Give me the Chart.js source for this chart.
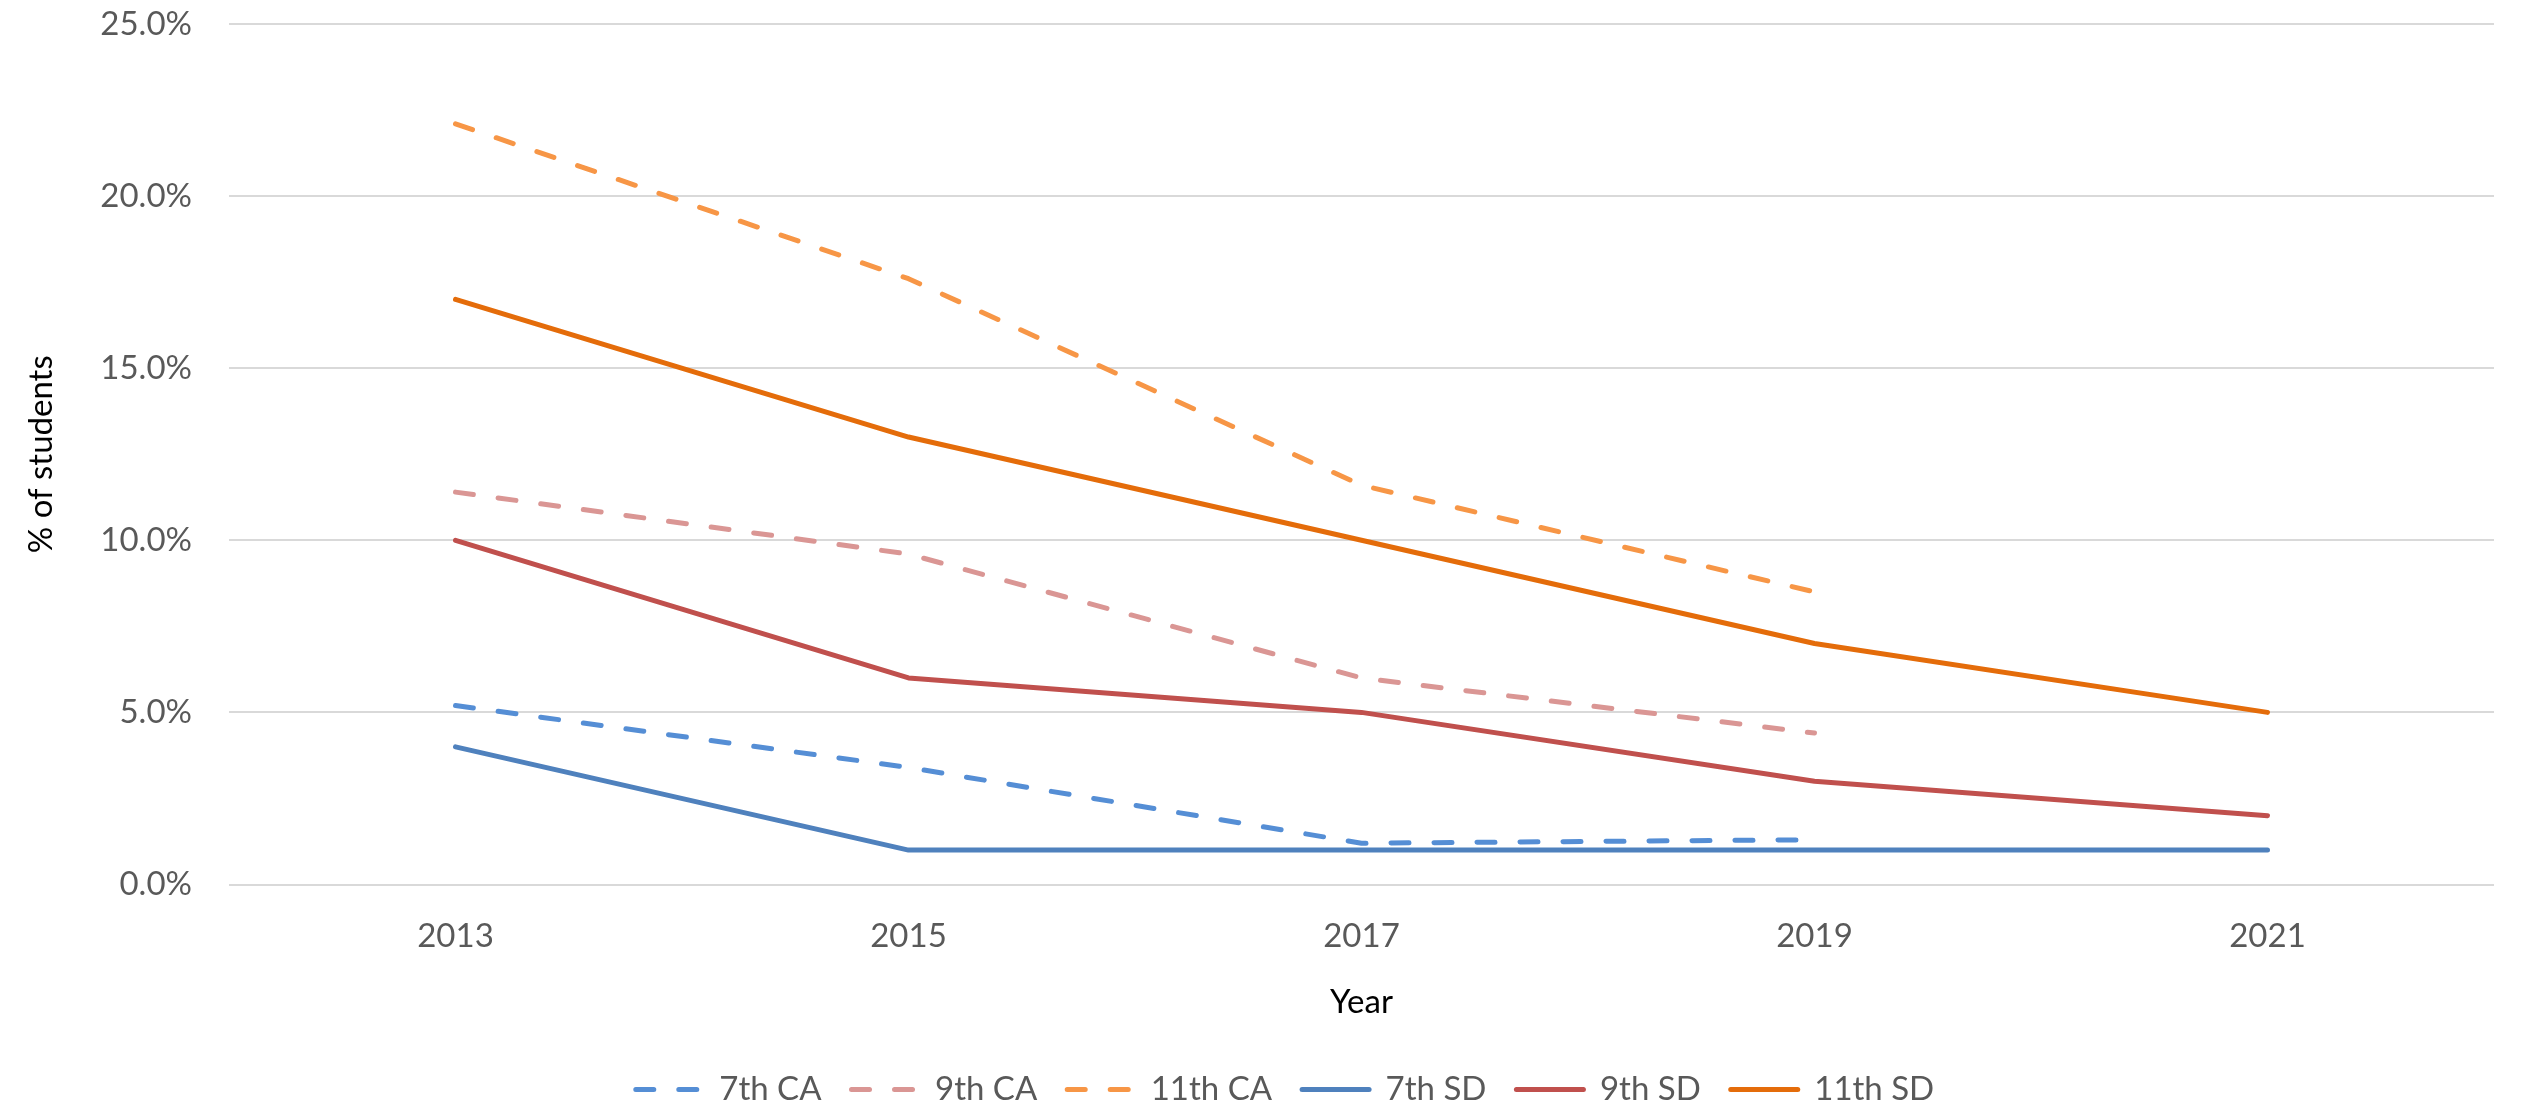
<!DOCTYPE html>
<html>
<head>
<meta charset="utf-8">
<script src="https://cdn.jsdelivr.net/npm/chart.js@4/dist/chart.umd.min.js"></script>
<style>
  html, body { margin: 0; padding: 0; background: #ffffff; }
  #wrap { width: 2526px; height: 1107px; }
</style>
</head>
<body>
<div id="wrap"><canvas id="c" width="2526" height="1107"></canvas></div>
<script>
const years = ['2013', '2015', '2017', '2019', '2021'];
const ca7 = [5.2, 3.4, 1.2, 1.3, null];
const ca9 = [11.4, 9.6, 6.0, 4.4, null];
const ca11 = [22.1, 17.6, 11.6, 8.5, null];
const sd7 = [4, 1, 1, 1, 1];
const sd9 = [10, 6, 5, 3, 2];
const sd11 = [17, 13, 10, 7, 5];
const yTicks = [0, 5, 10, 15, 20, 25];

const FONT = 'Lato, Calibri, Carlito, sans-serif';
const dash = [18, 25];

function ds(label, data, color, dashed) {
  return {
    label: label,
    data: data,
    borderColor: color,
    backgroundColor: color,
    borderWidth: 5,
    borderDash: dashed ? dash : [],
    borderCapStyle: 'round',
    borderJoinStyle: 'round',
    pointRadius: 0,
    pointHoverRadius: 0,
    tension: 0,
    fill: false,
    spanGaps: false
  };
}

new Chart(document.getElementById('c'), {
  type: 'line',
  data: {
    labels: years,
    datasets: [
      ds('7th CA', ca7, '#558ED5', true),
      ds('9th CA', ca9, '#DA9694', true),
      ds('11th CA', ca11, '#F79646', true),
      ds('7th SD', sd7, '#4F81BD', false),
      ds('9th SD', sd9, '#C0504D', false),
      ds('11th SD', sd11, '#E46C0A', false)
    ]
  },
  options: {
    responsive: false,
    animation: false,
    events: [],
    layout: { padding: { left: 76, right: 32, top: 24, bottom: -9 } },
    plugins: {
      tooltip: { enabled: false },
      legend: {
        position: 'bottom',
        labels: {
          usePointStyle: true,
          pointStyle: 'line',
          pointStyleWidth: 67,
          padding: 30,
          color: '#595959',
          font: { family: FONT, size: 33 },
          generateLabels: function (chart) {
            const items = Chart.defaults.plugins.legend.labels.generateLabels(chart);
            items.forEach(function (it) {
              const d = chart.data.datasets[it.datasetIndex];
              it.lineDash = d.borderDash;
              it.lineWidth = d.borderWidth;
              it.lineCap = d.borderCapStyle;
              it.strokeStyle = d.borderColor;
              it.pointStyle = 'line';
            });
            return items;
          }
        }
      }
    },
    scales: {
      x: {
        offset: true,
        grid: { display: false, drawTicks: false },
        border: { display: false },
        ticks: { color: '#595959', padding: 32, font: { family: FONT, size: 33 } },
        title: { display: true, text: 'Year', color: '#000000', padding: { top: 0, bottom: 21 }, font: { family: FONT, size: 33 } },
        afterFit: function (s) { s.height = 158.5; }
      },
      y: {
        min: 0,
        max: 25,
        afterBuildTicks: function (s) { s.ticks = yTicks.map(v => ({ value: v })); },
        grid: { color: '#D9D9D9', lineWidth: 2, drawTicks: false },
        border: { display: false },
        ticks: {
          color: '#595959',
          padding: 37,
          font: { family: FONT, size: 33 },
          callback: function (v) { return v.toFixed(1) + '%'; }
        },
        title: { display: true, text: '% of students', color: '#000000', padding: { top: -36, bottom: 0 }, font: { family: FONT, size: 33, lineHeight: 0.1 } },
        afterFit: function (s) { s.width = 153; s.paddingTop = 0; s.paddingBottom = 0; }
      }
    }
  }
});
</script>
</body>
</html>
